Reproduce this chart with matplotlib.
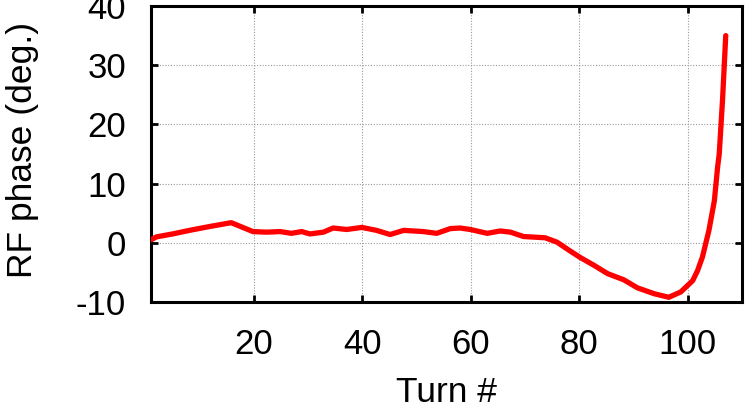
import matplotlib
matplotlib.use("Agg")
import matplotlib.pyplot as plt

# RF phase vs turn number
turns = [1, 2, 5, 8.1, 11.8, 15.8, 19.8, 22.3, 24.8, 26.9, 28.8, 30.3, 32.8, 34.6,
         37.1, 39.9, 42.6, 45.1, 47.6, 51.2, 53.7, 56.2, 58, 59.9, 63, 65.4, 67.3,
         69.7, 73.7, 75.9, 78, 80.2, 82.7, 85.2, 88.2, 90.7, 93.8, 96.5, 98.7,
         100.9, 101.8, 102.7, 103.9, 104.9, 105.5, 105.8, 106.4, 107]
phase = [0.5, 1.0, 1.5, 2.1, 2.75, 3.4, 1.9, 1.8, 1.9, 1.6, 1.9, 1.5, 1.8, 2.5,
         2.25, 2.6, 2.1, 1.4, 2.1, 1.9, 1.6, 2.4, 2.5, 2.25, 1.6, 2.0, 1.8,
         1.06, 0.85, 0.1, -1.2, -2.5, -3.8, -5.2, -6.25, -7.6, -8.6, -9.2, -8.3,
         -6.4, -4.7, -2.4, 2.1, 7.1, 12.8, 15.0, 24.0, 35.0]

xticks = [20, 40, 60, 80, 100]
yticks = [-10, 0, 10, 20, 30, 40]

plt.rcParams['font.family'] = ['Liberation Sans', 'DejaVu Sans']
plt.rcParams['axes.unicode_minus'] = False

fig = plt.figure(figsize=(7.56, 4.19), dpi=100)
ax = fig.add_axes([0.1997, 0.2792, 0.7818, 0.7065])

ax.plot(turns, phase, color='#ff0000', linewidth=3.8,
        solid_capstyle='round', solid_joinstyle='round', zorder=3)

ax.set_xlim(1, 110)
ax.set_ylim(-10, 40)
ax.set_xticks(xticks)
ax.set_yticks(yticks)

# gnuplot-like look: inward ticks on all sides, dotted grid
ax.grid(True, linestyle=(0, (1, 1.5)), color='#999999', linewidth=0.8)
ax.tick_params(direction='in', length=5, width=2, top=True, right=True,
               labelsize=25, colors='black')
ax.tick_params(axis='y', pad=18)
ax.tick_params(axis='x', pad=19)
for s in ax.spines.values():
    s.set_linewidth(2.2)

ax.set_xlabel("Turn #", fontsize=25.5)
ax.set_ylabel("RF phase (deg.)", fontsize=25.5)
ax.xaxis.set_label_coords(0.5, -0.25)
ax.yaxis.set_label_coords(-0.19, 0.515)

fig.savefig("out.png", dpi=100)
